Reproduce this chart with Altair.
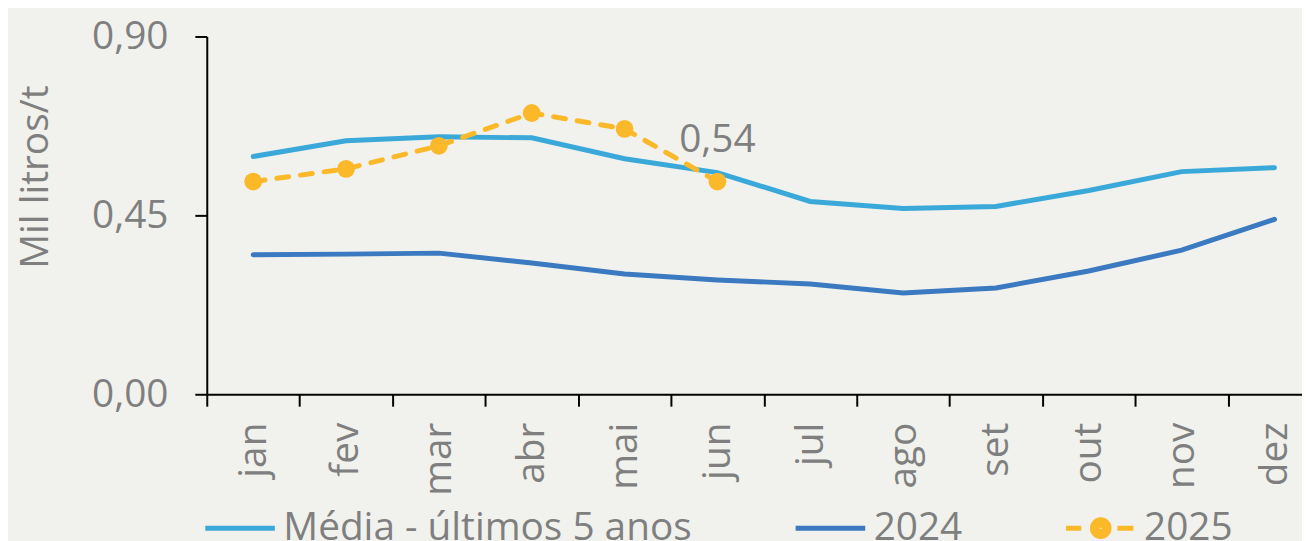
import altair as alt
import pandas as pd

months = ["jan", "fev", "mar", "abr", "mai", "jun", "jul", "ago", "set", "out", "nov", "dez"]
media = [0.598, 0.6375, 0.6475, 0.645, 0.5925, 0.5575, 0.485, 0.4675, 0.4725, 0.5125, 0.56, 0.57]
y2024 = [0.351, 0.3525, 0.355, 0.33, 0.3025, 0.2875, 0.2775, 0.255, 0.2675, 0.31, 0.3625, 0.44]
y2025 = [0.535, 0.567, 0.625, 0.7075, 0.6675, 0.535]
series = ["Média - últimos 5 anos", "2024", "2025"]
colors = ["#3aa9da", "#3b79c1", "#fbb829"]
last_label = "0,54"

rows = []
for m, v in zip(months, media):
    rows.append({"mes": m, "valor": v, "serie": series[0]})
for m, v in zip(months, y2024):
    rows.append({"mes": m, "valor": v, "serie": series[1]})
for m, v in zip(months, y2025):
    rows.append({"mes": m, "valor": v, "serie": series[2]})
df = pd.DataFrame(rows)
df_solid = df[df.serie != series[2]]
df25 = df[df.serie == series[2]]
dflab = df25.iloc[[-1]].assign(label=last_label)

FONT = "Open Sans"
GRAY = "#7f7f7f"
FS = 39

x = alt.X("mes:N", sort=months,
          scale=alt.Scale(type="band", paddingInner=0, paddingOuter=0),
          axis=alt.Axis(title=None, labelAngle=270, labelAlign="right", labelBaseline="middle",
                        tickBand="extent", labelPadding=16, tickSize=12))
y = alt.Y("valor:Q", scale=alt.Scale(domain=[0, 0.9], nice=False),
          axis=alt.Axis(title="Mil litros/t", values=[0, 0.45, 0.9],
                        labelExpr="replace(format(datum.value, '.2f'), '.', ',')",
                        tickSize=12, labelPadding=27, grid=False,
                        titleAngle=270, titleX=-160, titleY=141, titleAlign="center",
                        titleBaseline="alphabetic"))

# legend symbol for 2025: dash - filled dot - dash (dot built from concentric rings)
rings = "".join(f"M{r},0A{r},{r},0,1,1,-{r},0A{r},{r},0,1,1,{r},0" for r in (0.05, 0.15, 0.24))
sym_2025 = "M-1,0H-0.56M0.48,0H0.94" + rings
sym_expr = f"datum.value === '2025' ? '{sym_2025}' : 'M-1,0H1'"

color = alt.Color("serie:N", scale=alt.Scale(domain=series, range=colors),
                  legend=alt.Legend(title=None, orient="none", legendX=-4, legendY=457,
                                    direction="horizontal", symbolType={"expr": sym_expr},
                                    symbolSize=4900, symbolStrokeWidth=5,
                                    labelFontSize=FS, labelColor=GRAY, labelFont=FONT,
                                    columnPadding=93, labelOffset=6, padding=0,
                                    labelLimit=700))

lines = alt.Chart(df_solid).mark_line(strokeWidth=5, strokeCap="round").encode(
    x=x, y=y, color=color)
line25 = alt.Chart(df25).mark_line(strokeWidth=5, strokeCap="round", strokeDash=[12, 12],
                                   color=colors[2]).encode(x=x, y=y)
points = alt.Chart(df25).mark_point(filled=True, size=320, opacity=1, color=colors[2]).encode(
    x=x, y=y)
text = alt.Chart(dflab).mark_text(fontSize=FS, font=FONT, color=GRAY, dy=-30,
                                  baseline="alphabetic", align="center").encode(
    x=x, y=y, text="label:N")

chart = alt.layer(lines, line25, points, text).properties(
    width=1121, height=360,
    autosize=alt.AutoSizeParams(type="none"),
    padding={"left": 200, "top": 27, "right": -19, "bottom": 146},
    background="#f1f2ed",
).configure_view(stroke=None).configure_axis(
    domainColor="#000000", domainWidth=2, tickColor="#000000", tickWidth=2,
    labelFont=FONT, labelFontSize=FS, labelColor=GRAY,
    titleFont=FONT, titleFontSize=FS, titleColor=GRAY, titleFontWeight="normal",
)

chart.save("out.html", embed_options={"renderer": "svg", "actions": False})
